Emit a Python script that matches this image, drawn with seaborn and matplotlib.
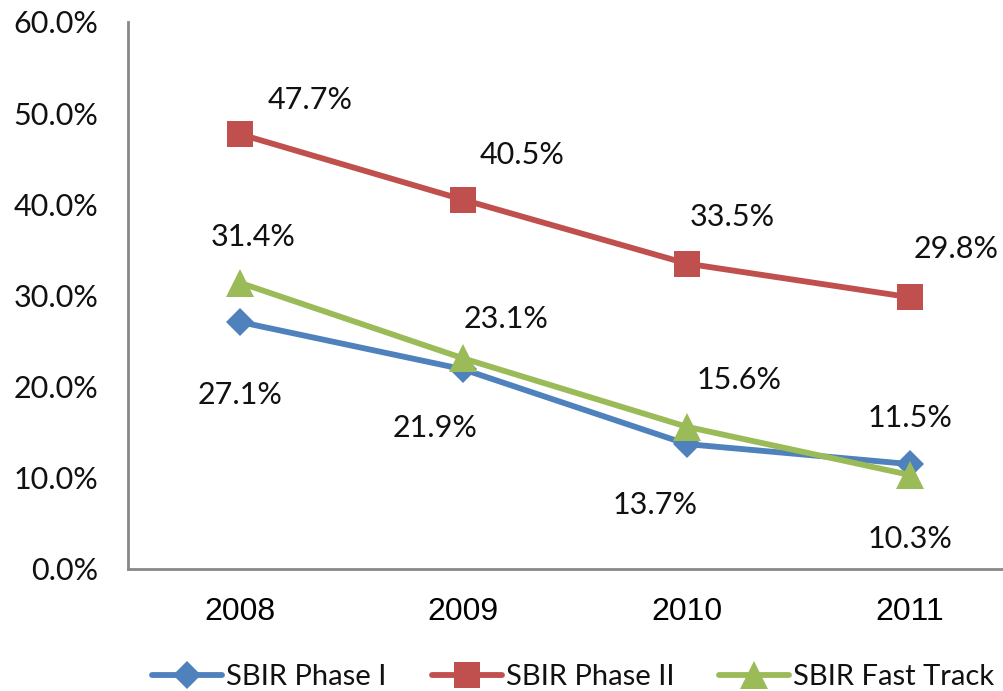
import matplotlib
matplotlib.use("Agg")
import matplotlib.pyplot as plt
import seaborn as sns
import pandas as pd
from matplotlib.ticker import FixedLocator, FuncFormatter

# ---- data ----
years = ["2008", "2009", "2010", "2011"]
series_names = ["SBIR Phase I", "SBIR Phase II", "SBIR Fast Track"]
phase1 = [27.1, 21.9, 13.7, 11.5]
phase2 = [47.7, 40.5, 33.5, 29.8]
fast_track = [31.4, 23.1, 15.6, 10.3]
y_ticks = [0, 10, 20, 30, 40, 50, 60]

values = {"SBIR Phase I": phase1, "SBIR Phase II": phase2, "SBIR Fast Track": fast_track}

# ---- styles ----
colors = {"SBIR Phase I": "#4F81BD", "SBIR Phase II": "#C0504D", "SBIR Fast Track": "#9BBB59"}
markers = {"SBIR Phase I": "D", "SBIR Phase II": "s", "SBIR Fast Track": "^"}
msizes = {"SBIR Phase I": 14, "SBIR Phase II": 19, "SBIR Fast Track": 20}
# label offsets in pixels (dx, dy; dy positive = up)
label_offsets = {
    "SBIR Phase I": [(0, -73), (-28, -59), (-32, -61), (0, 46)],
    "SBIR Phase II": [(70, 34), (59, 45), (45, 47), (46, 48)],
    "SBIR Fast Track": [(13, 46), (43, 39), (52, 47), (0, -64)],
}

sns.set_theme(style="white")
plt.rcParams["font.family"] = ["Lato", "DejaVu Sans"]

rows = []
for name in series_names:
    for i, (yr, v) in enumerate(zip(years, values[name])):
        rows.append({"idx": i, "year": yr, "series": name, "value": v})
df = pd.DataFrame(rows)

fig = plt.figure(figsize=(10.04, 6.91), dpi=100)
ax = fig.add_axes([0.1275, 0.1766, 0.8904, 0.7916])

for name in series_names:
    d = df[df["series"] == name]
    sns.lineplot(data=d, x="idx", y="value", ax=ax, color=colors[name],
                 marker=markers[name], markersize=msizes[name], linewidth=4.2,
                 markeredgewidth=0, label=name, legend=False)

px2pt = 72.0 / 100.0
for name in series_names:
    for i, v in enumerate(values[name]):
        dx, dy = label_offsets[name][i]
        ax.annotate(f"{v:.1f}%", xy=(i, v), xytext=(dx * px2pt, dy * px2pt),
                    textcoords="offset points", ha="center", va="center",
                    fontsize=22, color="#111111", annotation_clip=False)

ax.set_xlim(-0.5, 3.5)
ax.set_ylim(0, 60)
ax.set_xticks(range(len(years)))
ax.set_xticklabels(years, family="Liberation Sans", fontsize=23)
ax.xaxis.set_minor_locator(FixedLocator([-0.5, 0.5, 1.5, 2.5, 3.5]))
ax.tick_params(axis="x", which="major", length=0, pad=20, labelcolor="#000000")
ax.tick_params(axis="x", which="minor", length=7.2, width=2, color="#888888", direction="out")
ax.set_yticks(y_ticks)
ax.yaxis.set_major_formatter(FuncFormatter(lambda v, p: f"{v:.1f}%"))
ax.tick_params(axis="y", which="major", length=7.2, width=2, color="#888888",
               direction="out", labelsize=22, pad=14, labelcolor="#111111")
for s in ["top", "right"]:
    ax.spines[s].set_visible(False)
for s in ["left", "bottom"]:
    ax.spines[s].set_color("#888888")
    ax.spines[s].set_linewidth(2)
ax.set_xlabel("")
ax.set_ylabel("")
ax.grid(False)

handles, labels = ax.get_legend_handles_labels()
fig.legend(handles, labels, loc="center", bbox_to_anchor=(0.571, 0.0203), ncol=3,
           frameon=False, fontsize=21, handlelength=2.4, handletextpad=0.14,
           columnspacing=1.55, labelcolor="#111111", borderpad=0, borderaxespad=0)

fig.savefig("out.png", dpi=100)
